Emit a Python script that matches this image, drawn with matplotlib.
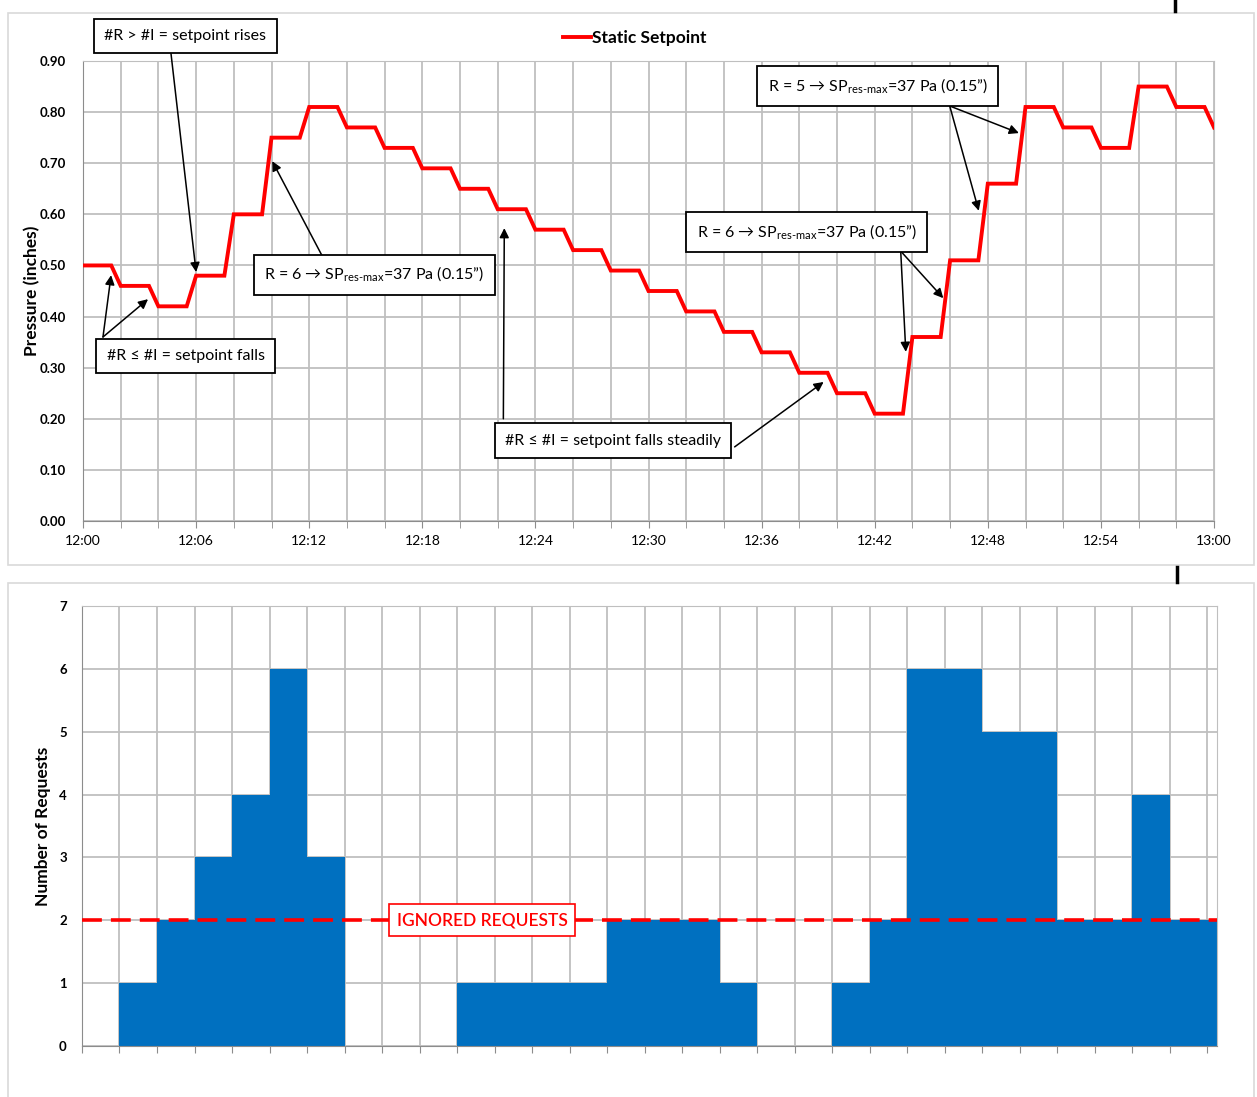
import numpy as np
import matplotlib.pyplot as plt
from matplotlib.patches import Rectangle
from matplotlib.lines import Line2D

plt.rcParams['font.family'] = ['Lato', 'DejaVu Sans']
plt.rcParams['mathtext.fontset'] = 'custom'
plt.rcParams['mathtext.rm'] = 'Lato'

# Static setpoint (inches) held over each 2-minute interval, plus the value reached at 13:00
setpoint = [0.50, 0.46, 0.42, 0.48, 0.60, 0.75, 0.81, 0.77, 0.73, 0.69,
            0.65, 0.61, 0.57, 0.53, 0.49, 0.45, 0.41, 0.37, 0.33, 0.29,
            0.25, 0.21, 0.36, 0.51, 0.66, 0.81, 0.77, 0.73, 0.85, 0.81, 0.77]
step_min = 2       # minutes per interval
ramp_min = 0.5     # the change happens over the last half minute

# Number of requests in each 2-minute interval
requests = [0, 1, 2, 3, 4, 6, 3, 0, 0, 0,
            1, 1, 1, 1, 2, 2, 2, 1, 0, 0,
            1, 2, 6, 6, 5, 5, 2, 2, 4, 2]
ignored = 2

time_labels = ["12:00", "12:06", "12:12", "12:18", "12:24", "12:30",
               "12:36", "12:42", "12:48", "12:54", "13:00"]

grid_c = '#BFBFBF'
axis_c = '#8C8C8C'
red = '#FF0000'
blue = '#0070C0'

fig = plt.figure(figsize=(12.57, 10.97), dpi=100)

# outer chart frames
fig.patches.append(Rectangle((8 / 1257, 1 - 565 / 1097), 1246 / 1257, 552 / 1097,
                             transform=fig.transFigure, fill=False, ec='#D9D9D9', lw=1.2))
fig.patches.append(Rectangle((8 / 1257, -0.01), 1246 / 1257, 1 - 583 / 1097 + 0.01,
                             transform=fig.transFigure, fill=False, ec='#D9D9D9', lw=1.2))
fig.add_artist(Line2D([1175 / 1257] * 2, [1, 1 - 11 / 1097], transform=fig.transFigure,
                      color='black', lw=2.5))
fig.add_artist(Line2D([1177 / 1257] * 2, [1 - 567 / 1097, 1 - 582 / 1097],
                      transform=fig.transFigure, color='black', lw=2.5))

# ---------------- top chart: setpoint ----------------
ax1 = fig.add_axes([83 / 1257, 1 - 521 / 1097, 1131 / 1257, 460 / 1097])

xs = [0]
ys = [setpoint[0]]
for i in range(1, len(setpoint)):
    xs += [i * step_min - ramp_min, i * step_min]
    ys += [setpoint[i - 1], setpoint[i]]
ax1.plot(xs, ys, color=red, lw=2.8, solid_joinstyle='miter', label='Static Setpoint',
         zorder=3)

total_min = step_min * (len(setpoint) - 1)
ax1.set_xlim(0, total_min)
ax1.set_ylim(0, 0.9)
ax1.set_xticks(np.arange(0, total_min + 1, 6))
ax1.set_xticklabels(time_labels, fontsize=10)
ax1.set_xticks(np.arange(0, total_min + 1, step_min), minor=True)
ax1.set_yticks(np.arange(0, 0.91, 0.1))
ax1.set_yticklabels([f"{v:.2f}" for v in np.arange(0, 0.91, 0.1)],
                    fontsize=9.5, fontweight='bold')
ax1.grid(True, which='both', color=grid_c, lw=1.3)
ax1.tick_params(axis='x', which='both', direction='out', length=5, color=axis_c, pad=5)
ax1.tick_params(axis='y', length=0, pad=12)
for s in ['top', 'right']:
    ax1.spines[s].set_color(grid_c)
for s in ['left', 'bottom']:
    ax1.spines[s].set_color(axis_c)
ax1.set_axisbelow(True)
ax1.set_ylabel('Pressure (inches)', fontsize=12.5, fontweight='bold', labelpad=0)

fig.legend(loc='center', bbox_to_anchor=(0.505, 1 - 38 / 1097), frameon=False,
           prop={'weight': 'bold', 'size': 12.5}, handlelength=1.6, handletextpad=0.1)

box = dict(boxstyle='square,pad=0.65', fc='white', ec='black', lw=1.3)
arr = dict(arrowstyle='-|>', color='black', lw=1.1, mutation_scale=14, shrinkA=0, shrinkB=0)
sub = r"R = {} → SP$_{{\mathregular{{res\text{{-}}max}}}}$=37 Pa (0.15”)"

def note(text, xy_box, targets, start):
    t = ax1.text(*xy_box, text, ha='center', va='center', fontsize=11.5, bbox=box,
                 zorder=6, clip_on=False)
    for tg in targets:
        ax1.annotate('', xy=tg, xytext=start, arrowprops=arr, annotation_clip=False,
                     zorder=5)
    return t

note("#R > #I = setpoint rises", (5.42, 0.949), [(6.0, 0.487)], (4.62, 0.93))
note("#R ≤ #I = setpoint falls", (5.44, 0.323), [(1.49, 0.481), (3.45, 0.434)], (1.06, 0.36))
note(sub.format(6), (15.45, 0.482), [(10.04, 0.704)], (12.74, 0.515))
note("#R ≤ #I = setpoint falls steadily", (28.12, 0.157), [(22.35, 0.573)], (22.3, 0.2))
ax1.annotate('', xy=(39.29, 0.272), xytext=(34.57, 0.145), arrowprops=arr, zorder=5)
note(sub.format(6), (38.39, 0.565), [(45.64, 0.436), (43.65, 0.331)], (43.38, 0.528))
note(sub.format(5), (42.16, 0.851), [(49.65, 0.759), (47.52, 0.607)], (45.98, 0.812))

# ---------------- bottom chart: requests ----------------
ax2 = fig.add_axes([82 / 1257, 1 - 1046 / 1097, 1135 / 1257, 440 / 1097])
n = len(requests)
xmax = n * 1135 / 1125
widths = [1] * (n - 1) + [xmax - (n - 1)]
ax2.bar(np.arange(n), requests, width=widths, align='edge', color=blue, lw=0, zorder=2)
ax2.axhline(ignored, color=red, lw=2.6, ls=(0, (5.5, 2.5)), zorder=3)
ax2.text(10.67, ignored, "IGNORED REQUESTS", ha='center', va='center', color=red,
         fontsize=12.5, fontweight='semibold', zorder=5,
         bbox=dict(boxstyle='square,pad=0.45', fc='white', ec=red, lw=1.2))

ax2.set_xlim(0, xmax)
ax2.set_ylim(0, 7)
ax2.set_xticks(np.arange(0, n + 1))
ax2.set_xticklabels([])
ax2.set_yticks(np.arange(0, 8))
ax2.set_yticklabels([str(v) for v in range(8)], fontsize=9.5, fontweight='bold')
ax2.grid(True, color=grid_c, lw=1.3)
ax2.tick_params(axis='x', direction='out', length=5, color=axis_c)
ax2.tick_params(axis='y', length=0, pad=11)
for s in ['top', 'right']:
    ax2.spines[s].set_color(grid_c)
for s in ['left', 'bottom']:
    ax2.spines[s].set_color(axis_c)
ax2.set_axisbelow(True)
ax2.set_ylabel('Number of Requests', fontsize=12.5, fontweight='bold', labelpad=6)

fig.savefig('out.png', dpi=100)
